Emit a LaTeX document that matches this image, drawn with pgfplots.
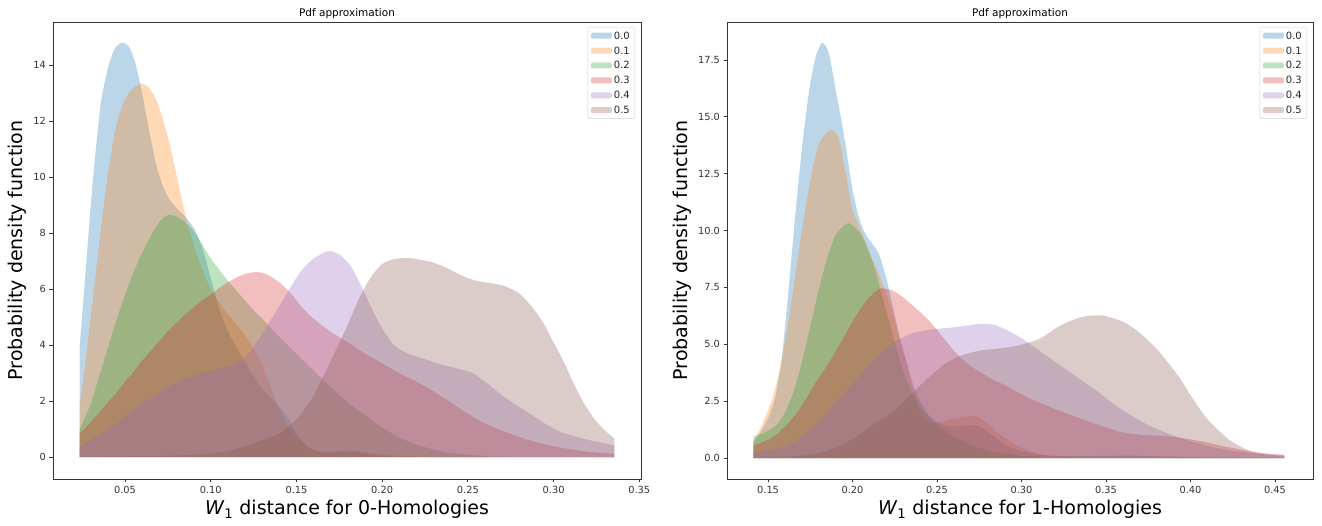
\documentclass[border=0pt]{standalone}
\usepackage{fontspec}
\setmainfont{DejaVu Sans}
\usepackage{pgfplots}
\pgfplotsset{compat=1.18}
\definecolor{c0}{HTML}{1F77B4}
\definecolor{c1}{HTML}{FF7F0E}
\definecolor{c2}{HTML}{2CA02C}
\definecolor{c3}{HTML}{D62728}
\definecolor{c4}{HTML}{9467BD}
\definecolor{c5}{HTML}{8C564B}
\pgfplotsset{
  kde/.style={
    scale only axis, height=457pt,
    axis line style={black!80, line width=0.8pt},
    tick align=outside, xtick pos=bottom, ytick pos=left,
    major tick length=3.5pt, tick style={black!80, line width=0.8pt},
    ticklabel style={font=\fontsize{9.8}{11}\selectfont, text=black!80},
    /pgf/number format/assume math mode=true,
    label style={font=\fontsize{19}{22}\selectfont},
    title style={font=\fontsize{10.5}{12}\selectfont, yshift=-6pt},
    legend style={at={(1,1)}, xshift=-6pt, yshift=-5pt, anchor=north east,
      draw=black!18, rounded corners=2pt, fill=white, inner sep=3pt,
      font=\fontsize{10}{12}\selectfont, row sep=3.9pt, text=black!85,
      nodes={inner sep=2pt, text height=7pt, text depth=0pt}},
    legend cell align=left,
    legend image code/.code={\fill[##1] (0pt,-3pt) rectangle (21pt,3pt);},
    every axis plot/.append style={draw=none, fill opacity=0.3, smooth, tension=0.4},
  }
}
\begin{document}
\begin{tikzpicture}
\useasboundingbox (0,0) rectangle (1322pt,526pt);
\begin{axis}[kde, at={(53pt,47pt)}, anchor=south west, width=588pt,
  xmin=0.008, xmax=0.351, ymin=-0.78, ymax=15.55,
  xtick={0.05,0.10,...,0.351}, ytick={0,2,...,14},
  xticklabel style={/pgf/number format/.cd, fixed, fixed zerofill, precision=2},
  title={Pdf approximation},
  xlabel={\textit{W}\textsubscript{1} distance for 0-Homologies},
  ylabel={Probability density function}]
\addplot[fill=c0] coordinates {(0.0236,4.0)(0.027,6.6)(0.030,9.0)(0.033,11.0)(0.036,12.7)(0.040,13.9)(0.044,14.6)(0.048,14.8)(0.052,14.7)(0.056,14.1)(0.060,13.0)(0.064,11.7)(0.068,10.5)(0.072,9.7)(0.076,9.2)(0.080,8.9)(0.085,8.6)(0.090,8.2)(0.095,7.5)(0.100,6.4)(0.105,5.3)(0.110,4.5)(0.117,3.7)(0.125,2.9)(0.130,2.45)(0.137,2.0)(0.144,1.5)(0.150,0.85)(0.156,0.4)(0.163,0.18)(0.170,0.15)(0.178,0.2)(0.186,0.17)(0.195,0.08)(0.205,0.03)(0.22,0.01)(0.25,0)(0.3354,0)} \closedcycle;
\addlegendentry{0.0}
\addplot[fill=c1] coordinates {(0.0236,1.9)(0.027,3.4)(0.030,5.0)(0.033,6.6)(0.036,8.2)(0.040,10.1)(0.044,11.6)(0.048,12.5)(0.052,13.0)(0.056,13.25)(0.060,13.35)(0.064,13.2)(0.068,12.8)(0.072,12.1)(0.076,11.2)(0.080,10.1)(0.085,8.7)(0.090,7.6)(0.095,6.7)(0.100,6.0)(0.105,5.5)(0.110,5.1)(0.115,4.75)(0.120,4.35)(0.125,3.9)(0.130,3.3)(0.135,2.5)(0.140,1.7)(0.145,1.1)(0.150,0.7)(0.155,0.42)(0.160,0.27)(0.170,0.2)(0.180,0.24)(0.190,0.18)(0.200,0.1)(0.215,0.04)(0.24,0.01)(0.27,0)(0.3354,0)} \closedcycle;
\addlegendentry{0.1}
\addplot[fill=c2] coordinates {(0.0236,1.0)(0.030,1.9)(0.035,2.9)(0.040,3.9)(0.045,4.9)(0.050,5.8)(0.055,6.6)(0.060,7.3)(0.065,7.9)(0.070,8.4)(0.075,8.65)(0.080,8.6)(0.085,8.4)(0.090,8.1)(0.095,7.6)(0.100,7.1)(0.105,6.7)(0.110,6.3)(0.115,5.95)(0.120,5.6)(0.125,5.25)(0.130,4.95)(0.140,4.3)(0.150,3.7)(0.160,3.1)(0.170,2.5)(0.180,1.95)(0.190,1.5)(0.200,1.05)(0.210,0.7)(0.220,0.45)(0.230,0.27)(0.240,0.15)(0.255,0.06)(0.27,0.02)(0.3,0)(0.3354,0)} \closedcycle;
\addlegendentry{0.2}
\addplot[fill=c3] coordinates {(0.0236,0.85)(0.030,1.25)(0.035,1.6)(0.040,1.95)(0.045,2.3)(0.050,2.7)(0.055,3.05)(0.060,3.45)(0.065,3.8)(0.070,4.15)(0.075,4.5)(0.080,4.8)(0.085,5.1)(0.090,5.35)(0.095,5.6)(0.100,5.8)(0.105,6.05)(0.110,6.25)(0.115,6.42)(0.120,6.55)(0.127,6.62)(0.133,6.52)(0.140,6.25)(0.146,5.9)(0.152,5.45)(0.158,5.05)(0.165,4.7)(0.172,4.4)(0.180,4.1)(0.190,3.7)(0.200,3.35)(0.210,3.0)(0.220,2.7)(0.230,2.35)(0.240,1.95)(0.250,1.55)(0.260,1.2)(0.272,0.9)(0.285,0.62)(0.297,0.43)(0.310,0.28)(0.322,0.18)(0.3354,0.12)} \closedcycle;
\addlegendentry{0.3}
\addplot[fill=c4] coordinates {(0.0236,0.35)(0.035,0.8)(0.045,1.2)(0.055,1.7)(0.065,2.1)(0.075,2.5)(0.085,2.8)(0.095,3.0)(0.105,3.15)(0.115,3.35)(0.122,3.7)(0.130,4.4)(0.137,5.1)(0.145,5.9)(0.152,6.6)(0.160,7.1)(0.169,7.37)(0.176,7.2)(0.182,6.8)(0.188,6.1)(0.194,5.3)(0.200,4.6)(0.207,4.0)(0.215,3.7)(0.225,3.5)(0.235,3.3)(0.245,3.15)(0.253,3.0)(0.260,2.7)(0.268,2.3)(0.276,1.95)(0.285,1.6)(0.295,1.2)(0.304,0.9)(0.315,0.7)(0.325,0.55)(0.3354,0.43)} \closedcycle;
\addlegendentry{0.4}
\addplot[fill=c5] coordinates {(0.0236,0.02)(0.05,0.03)(0.07,0.05)(0.085,0.07)(0.100,0.12)(0.110,0.22)(0.120,0.38)(0.130,0.6)(0.140,0.85)(0.150,1.35)(0.158,2.0)(0.165,2.8)(0.172,3.7)(0.179,4.6)(0.186,5.6)(0.193,6.4)(0.200,6.9)(0.207,7.08)(0.215,7.12)(0.223,7.05)(0.230,6.95)(0.238,6.75)(0.246,6.5)(0.255,6.3)(0.265,6.2)(0.272,6.1)(0.280,5.85)(0.287,5.4)(0.294,4.8)(0.300,4.1)(0.306,3.4)(0.312,2.6)(0.318,1.9)(0.324,1.35)(0.330,0.95)(0.3354,0.67)} \closedcycle;
\addlegendentry{0.5}
\end{axis}
\begin{axis}[kde, at={(727pt,47pt)}, anchor=south west, width=586pt,
  xmin=0.1257, xmax=0.4725, ymin=-0.92, ymax=19.17,
  xtick={0.15,0.20,...,0.451}, ytick={0,2.5,...,17.5},
  xticklabel style={/pgf/number format/.cd, fixed, fixed zerofill, precision=2},
  yticklabel style={/pgf/number format/.cd, fixed, fixed zerofill, precision=1},
  title={Pdf approximation},
  xlabel={\textit{W}\textsubscript{1} distance for 1-Homologies},
  ylabel={Probability density function}]
\addplot[fill=c0] coordinates {(0.1413,0.7)(0.146,1.2)(0.150,1.75)(0.154,2.6)(0.158,4.3)(0.162,7.3)(0.166,10.6)(0.170,13.6)(0.174,16.0)(0.178,17.6)(0.182,18.25)(0.186,17.8)(0.190,16.2)(0.194,14.6)(0.197,13.2)(0.200,11.8)(0.204,10.5)(0.208,9.8)(0.212,9.4)(0.216,8.9)(0.220,7.9)(0.224,6.6)(0.228,5.3)(0.232,4.2)(0.236,3.2)(0.240,2.5)(0.245,1.9)(0.250,1.6)(0.256,1.4)(0.262,1.4)(0.268,1.45)(0.275,1.4)(0.282,1.05)(0.290,0.6)(0.300,0.3)(0.315,0.12)(0.33,0.08)(0.35,0.1)(0.37,0.1)(0.39,0.06)(0.42,0.02)(0.4555,0)} \closedcycle;
\addlegendentry{0.0}
\addplot[fill=c1] coordinates {(0.1413,0.7)(0.146,1.4)(0.150,2.1)(0.154,3.0)(0.158,4.3)(0.162,6.0)(0.166,8.0)(0.170,10.0)(0.175,12.2)(0.180,13.8)(0.1873,14.45)(0.192,14.0)(0.196,12.5)(0.200,10.9)(0.204,10.2)(0.208,9.4)(0.212,8.7)(0.216,8.0)(0.220,7.2)(0.224,6.3)(0.228,5.2)(0.232,4.2)(0.236,3.0)(0.240,2.0)(0.245,1.6)(0.250,1.55)(0.258,1.7)(0.266,1.8)(0.273,1.85)(0.280,1.5)(0.286,1.1)(0.292,0.8)(0.298,0.53)(0.305,0.3)(0.311,0.16)(0.32,0.08)(0.35,0.05)(0.38,0.06)(0.41,0.05)(0.4555,0.02)} \closedcycle;
\addlegendentry{0.1}
\addplot[fill=c2] coordinates {(0.1413,0.95)(0.146,1.05)(0.150,1.2)(0.155,1.45)(0.160,2.0)(0.165,2.9)(0.170,4.2)(0.175,5.8)(0.180,7.4)(0.185,8.8)(0.190,9.8)(0.1968,10.32)(0.202,10.1)(0.206,9.7)(0.210,9.0)(0.214,8.1)(0.218,7.0)(0.222,5.9)(0.226,4.8)(0.230,3.8)(0.235,2.9)(0.240,2.25)(0.248,1.6)(0.256,1.1)(0.265,0.75)(0.273,0.5)(0.285,0.25)(0.3,0.1)(0.32,0.04)(0.35,0.01)(0.4555,0)} \closedcycle;
\addlegendentry{0.2}
\addplot[fill=c3] coordinates {(0.1413,0.55)(0.150,0.8)(0.156,1.1)(0.164,1.7)(0.1712,2.44)(0.178,3.3)(0.1861,4.2)(0.194,5.2)(0.201,6.13)(0.208,6.9)(0.216,7.45)(0.224,7.35)(0.231,7.0)(0.238,6.55)(0.2458,6.0)(0.253,5.35)(0.2608,4.65)(0.268,4.15)(0.2757,3.77)(0.283,3.45)(0.2907,3.18)(0.300,2.8)(0.3106,2.44)(0.320,2.15)(0.3305,1.86)(0.340,1.6)(0.350,1.35)(0.3604,1.12)(0.372,1.02)(0.3853,0.97)(0.398,0.85)(0.410,0.68)(0.422,0.48)(0.435,0.31)(0.445,0.2)(0.4555,0.12)} \closedcycle;
\addlegendentry{0.3}
\addplot[fill=c4] coordinates {(0.1413,0.24)(0.150,0.35)(0.161,0.53)(0.170,0.95)(0.181,1.7)(0.188,2.3)(0.196,2.9)(0.204,3.6)(0.211,4.2)(0.218,4.7)(0.226,5.15)(0.236,5.5)(0.246,5.65)(0.256,5.72)(0.266,5.8)(0.2757,5.9)(0.284,5.85)(0.292,5.6)(0.3006,5.24)(0.310,4.75)(0.3205,4.2)(0.333,3.55)(0.3454,2.9)(0.355,2.35)(0.3653,1.86)(0.375,1.45)(0.3853,1.12)(0.397,0.8)(0.410,0.53)(0.422,0.35)(0.435,0.23)(0.445,0.18)(0.4555,0.15)} \closedcycle;
\addlegendentry{0.4}
\addplot[fill=c5] coordinates {(0.1413,0.02)(0.160,0.05)(0.170,0.1)(0.180,0.22)(0.190,0.45)(0.198,0.75)(0.206,1.12)(0.214,1.55)(0.2259,2.15)(0.236,2.9)(0.2483,3.77)(0.257,4.25)(0.266,4.55)(0.2757,4.73)(0.285,4.8)(0.298,4.95)(0.3106,5.24)(0.323,5.83)(0.3355,6.2)(0.348,6.27)(0.3604,5.98)(0.370,5.5)(0.380,4.8)(0.3927,3.62)(0.401,2.65)(0.41,1.71)(0.4226,0.82)(0.435,0.31)(0.445,0.15)(0.4555,0.09)} \closedcycle;
\addlegendentry{0.5}
\end{axis}
\end{tikzpicture}
\end{document}
